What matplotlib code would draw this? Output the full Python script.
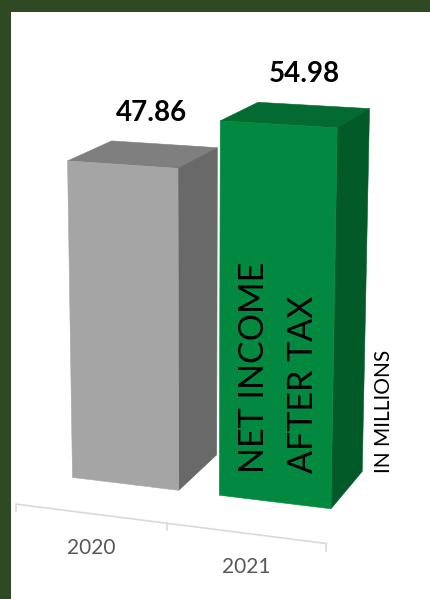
import numpy as np
import matplotlib.pyplot as plt
from matplotlib.patches import Polygon, Rectangle

# data
years = ['2020', '2021']
income = [47.86, 54.98]
value_labels = ['47.86', '54.98']

front_colors = ['#a5a5a5', '#02893f']
top_colors = ['#7f7f7f', '#036a31']
side_colors = ['#696969', '#035a29']

border = '#2f4a22'

# fake 3D camera (pixel units), tuned to look like the excel chart
theta = np.radians(19.5)
phi = np.radians(14.1)
focal = 2086.0
dist = 1800.0
cx, cy = 199.0, 280.3

bar_w = 102.3
gap = 38.1
bar_d = 103.2
k = 6.08          # world height per million
axis_z = -80.5
slot = bar_w + gap
center = np.array([bar_w + gap / 2, 194.0, 0.0])


def project(X, Y, Z):
    xr, yr, zr = X - center[0], Y - center[1], Z - center[2]
    x1 = xr * np.cos(theta) + zr * np.sin(theta)
    z1 = -xr * np.sin(theta) + zr * np.cos(theta)
    y2 = yr * np.cos(phi) + z1 * np.sin(phi)
    z2 = -yr * np.sin(phi) + z1 * np.cos(phi) + dist
    return cx + focal * x1 / z2, cy - focal * y2 / z2


def face(ax, pts, color):
    xy = [project(*p) for p in pts]
    ax.add_patch(Polygon(xy, closed=True, facecolor=color, edgecolor=color, lw=0.4))


fig = plt.figure(figsize=(4.31, 5.99), dpi=100)
fig.patch.set_facecolor(border)
ax = fig.add_axes([0, 0, 1, 1])
ax.set_xlim(0, 431)
ax.set_ylim(599, 0)
ax.axis('off')
ax.add_patch(Rectangle((11, 12), 420, 587, facecolor='white', edgecolor='none'))

# category axis on the floor
x_edges = np.arange(len(years) + 1) * slot - gap / 2
x0, y0 = project(x_edges[0], 0, axis_z)
x1, y1 = project(x_edges[-1], 0, axis_z)
ax.plot([x0, x1], [y0, y1], color='#d9d9d9', lw=1.2)
for xe in x_edges:
    tx, ty = project(xe, 0, axis_z)
    ax.plot([tx, tx], [ty, ty + 7], color='#d9d9d9', lw=1.2)

for i, (yr, val) in enumerate(zip(years, income)):
    xl = i * slot
    xr = xl + bar_w
    h = val * k
    # top
    face(ax, [(xl, h, 0), (xr, h, 0), (xr, h, bar_d), (xl, h, bar_d)], top_colors[i])
    # right side
    face(ax, [(xr, 0, 0), (xr, h, 0), (xr, h, bar_d), (xr, 0, bar_d)], side_colors[i])
    # front
    face(ax, [(xl, 0, 0), (xr, 0, 0), (xr, h, 0), (xl, h, 0)], front_colors[i])

    # value label above the bar
    tx, ty = project(xl + bar_w / 2, h, bar_d / 2)
    ax.text(tx + 8, ty - 41, value_labels[i], ha='center', va='center',
            fontsize=20, fontweight='bold', family='Lato', color='black')

    # year label under the axis
    lx, ly = project(xl + bar_w / 2, 0, axis_z)
    ax.text(lx, ly + 34, yr, ha='center', va='center', fontsize=15,
            family='Lato', color='#595959')

# titles written inside the green bar
ax.text(254, 473, 'NET INCOME', rotation=90, ha='center', va='bottom',
        fontsize=24.5, family='Lato', color='black')
ax.text(303, 473, 'AFTER TAX', rotation=90, ha='center', va='bottom',
        fontsize=24.5, family='Lato', color='black')
ax.text(384, 473, 'IN MILLIONS', rotation=90, ha='center', va='bottom',
        fontsize=15, family='Lato', color='black')

fig.savefig('out.png', dpi=100, facecolor=fig.get_facecolor())
